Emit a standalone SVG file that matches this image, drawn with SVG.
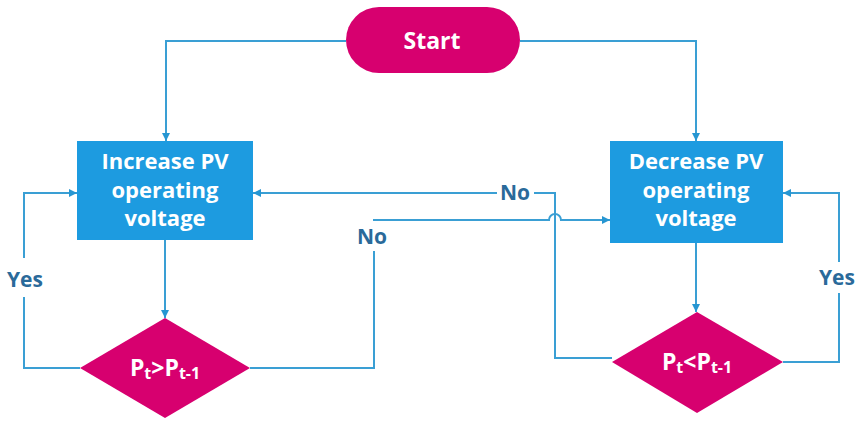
<svg xmlns="http://www.w3.org/2000/svg" width="859" height="422" viewBox="0 0 859 422">
<style>
.ln{fill:none;stroke:#3a9fd4;stroke-width:2}
.box{fill:#1d9be0}
.mag{fill:#d7006f}
.t{font-family:"Open Sans","Noto Sans",sans-serif;font-weight:bold;fill:#ffffff;text-anchor:middle}
.lb{font-family:"Open Sans","Noto Sans",sans-serif;font-weight:bold;fill:#2a6a9a;font-size:21px;text-anchor:middle}
</style>
<defs>
<marker id="ah" viewBox="0 0 10 10" refX="10" refY="5" markerWidth="8" markerHeight="8" markerUnits="userSpaceOnUse" orient="auto">
<path d="M0,0 L10,5 L0,10 z" fill="#2696d2"/>
</marker>
</defs>
<rect width="859" height="422" fill="#ffffff"/>
<g id="connectors">
<path class="ln" d="M346,41 H166 V141" marker-end="url(#ah)"/>
<path class="ln" d="M520,41 H696 V141" marker-end="url(#ah)"/>
<path class="ln" d="M165,240 V318" marker-end="url(#ah)"/>
<path class="ln" d="M696,243 V312" marker-end="url(#ah)"/>
<path class="ln" d="M80,368 H24 V297"/>
<path class="ln" d="M24,258 V193 H77" marker-end="url(#ah)"/>
<path class="ln" d="M783,362 H839 V293"/>
<path class="ln" d="M839,262 V193 H783" marker-end="url(#ah)"/>
<path class="ln" d="M612,358 H555 V193 H534"/>
<path class="ln" d="M497,193 H253" marker-end="url(#ah)"/>
<path class="ln" d="M250,368 H374 V251"/>
<path class="ln" d="M373,220 H549 A6,6 0 0 1 561,220 H610" marker-end="url(#ah)"/>
</g>
<g id="start">
<rect class="mag" x="346" y="7" width="174" height="66" rx="33"/>
<text class="t" x="432" y="49" font-size="23">Start</text>
</g>
<g id="increase">
<rect class="box" x="77" y="141" width="176" height="99"/>
<text class="t" font-size="22"><tspan x="165" y="169">Increase PV</tspan><tspan x="165" y="198">operating</tspan><tspan x="165" y="226">voltage</tspan></text>
</g>
<g id="decrease">
<rect class="box" x="610" y="141" width="173" height="102"/>
<text class="t" font-size="22"><tspan x="696" y="169">Decrease PV</tspan><tspan x="696" y="198">operating</tspan><tspan x="696" y="226">voltage</tspan></text>
</g>
<g id="cond1">
<polygon class="mag" points="165,318 250,368 165,418 80,368"/>
<text class="t" x="165" y="376" font-size="23">P<tspan font-size="16" dy="3">t</tspan><tspan dy="-3">&gt;P</tspan><tspan font-size="16" dy="3">t-1</tspan></text>
</g>
<g id="cond2">
<polygon class="mag" points="697,312 783,362 697,413 612,362"/>
<text class="t" x="697" y="370" font-size="23">P<tspan font-size="16" dy="3">t</tspan><tspan dy="-3">&lt;P</tspan><tspan font-size="16" dy="3">t-1</tspan></text>
</g>
<g id="labels">
<text class="lb" x="25" y="287">Yes</text>
<text class="lb" x="837" y="285">Yes</text>
<text class="lb" x="515" y="200">No</text>
<text class="lb" x="372" y="244">No</text>
</g>
</svg>
